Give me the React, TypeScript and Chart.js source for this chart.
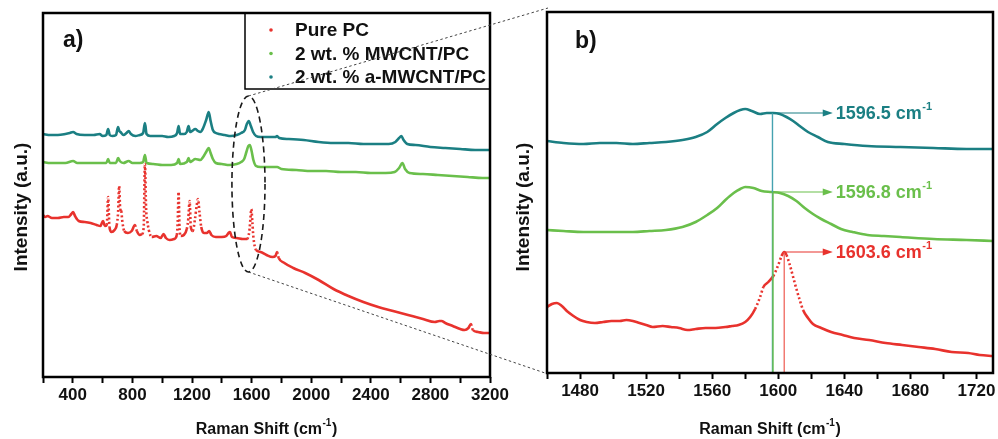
import React, { useEffect, useRef } from 'react';
import Chart from 'chart.js/auto';

const FONT = '"Liberation Sans", Arial, Helvetica, sans-serif';

// ---------- series meta ----------
const seriesLabels = ['Pure PC', '2 wt. % MWCNT/PC', '2 wt. % a-MWCNT/PC'];
const seriesColors = ['#e8322d', '#6abf4b', '#1b7f83'];
const markerLineColors = ['#ee5a50', '#6abf4b', '#45a2b0'];

// ---------- axes ----------
const fullRange = [200, 3200];
const fullTickStep = 200;
const fullLabelStep = 400;
const zoomRange = [1460, 1730];
const zoomTickStep = 20;
const zoomLabelStep = 40;
const zoomLabelAnchor = 1480;
const fullIntensityMax = 364;
const zoomIntensityMax = 361;

// ---------- panel a: full spectra (Raman shift cm-1, intensity a.u.) ----------
const pcFull: [number, number][] = [
  [200, 162], [215, 160], [230, 161], [260, 159], [300, 159], [340, 160], [370, 160], [390, 163],
  [402, 165], [415, 161], [440, 156], [480, 155], [520, 154], [560, 152], [585, 151], [603, 156],
  [615, 151], [628, 152], [637, 180], [646, 150], [660, 145], [680, 147], [695, 152], [704, 165],
  [711, 191], [718, 168], [725, 166], [732, 156], [745, 146], [770, 144], [795, 146], [817, 152],
  [830, 146], [850, 142], [865, 143], [876, 150], [884, 213], [892, 168], [900, 156], [910, 147],
  [930, 140], [960, 141], [990, 139], [1009, 143], [1025, 139], [1050, 137], [1080, 138], [1098, 142],
  [1104, 155], [1110, 185], [1116, 150], [1125, 141], [1145, 142], [1165, 148], [1175, 158], [1184, 176],
  [1192, 150], [1205, 146], [1220, 158], [1232, 172], [1240, 178], [1250, 165], [1262, 150], [1280, 144],
  [1300, 144], [1315, 146], [1330, 142], [1360, 140], [1400, 140], [1430, 141], [1445, 144], [1455, 145],
  [1468, 140], [1500, 139], [1540, 138], [1570, 138], [1585, 146], [1592, 158], [1598, 168], [1605, 155],
  [1612, 140], [1630, 127], [1660, 125], [1700, 122], [1740, 120], [1760, 121], [1771, 125], [1782, 119],
  [1820, 114], [1880, 109], [1960, 104], [2050, 97], [2150, 88], [2250, 81], [2350, 75], [2450, 70],
  [2550, 66], [2650, 62], [2750, 58], [2830, 55], [2860, 56], [2875, 56], [2900, 54], [2950, 51],
  [3000, 48], [3030, 47], [3055, 49], [3072, 53], [3085, 47], [3120, 45], [3160, 44], [3200, 44],
];

const mwcntFull: [number, number][] = [
  [200, 215], [250, 214], [300, 214], [350, 214], [402, 216], [430, 214], [500, 214], [560, 214],
  [600, 214], [625, 214], [637, 218], [648, 214], [690, 214], [704, 219], [715, 216], [740, 214],
  [775, 216], [800, 214], [850, 214], [872, 215], [884, 222], [895, 214], [940, 213], [1000, 212],
  [1060, 212], [1100, 214], [1110, 218], [1120, 213], [1165, 215], [1177, 219], [1187, 215], [1200, 216],
  [1222, 218], [1256, 217], [1275, 220], [1295, 225], [1312, 229], [1325, 224], [1340, 218], [1360, 214],
  [1400, 213], [1450, 212], [1500, 213], [1530, 215], [1550, 218], [1565, 225], [1578, 231], [1588, 232],
  [1600, 226], [1612, 217], [1630, 211], [1660, 210], [1700, 210], [1771, 210], [1800, 208], [1900, 207],
  [2000, 206], [2100, 206], [2200, 205], [2300, 205], [2400, 204], [2500, 204], [2560, 205], [2590, 209],
  [2612, 214], [2630, 208], [2660, 204], [2750, 203], [2850, 202], [2950, 201], [3050, 200], [3150, 199],
  [3200, 199],
];

const aMwcntFull: [number, number][] = [
  [200, 243], [250, 242], [300, 242], [350, 243], [380, 244], [402, 245], [425, 243], [480, 242],
  [540, 242], [580, 243], [600, 241], [625, 242], [637, 248], [648, 242], [665, 241], [690, 242],
  [704, 250], [712, 246], [720, 245], [740, 242], [760, 244], [775, 246], [790, 243], [820, 241],
  [850, 242], [872, 244], [884, 254], [895, 243], [920, 241], [960, 241], [1000, 241], [1040, 240],
  [1080, 241], [1100, 244], [1110, 251], [1120, 243], [1145, 243], [1165, 245], [1177, 251], [1187, 245],
  [1200, 246], [1222, 248], [1240, 246], [1256, 245], [1275, 249], [1295, 257], [1312, 265], [1325, 256],
  [1340, 247], [1360, 244], [1380, 243], [1420, 242], [1460, 241], [1500, 242], [1530, 244], [1555, 247],
  [1568, 253], [1581, 256], [1595, 251], [1610, 245], [1630, 241], [1660, 240], [1700, 240], [1760, 240],
  [1771, 241], [1785, 239], [1850, 238], [1950, 237], [2050, 235], [2150, 234], [2250, 234], [2350, 233],
  [2450, 233], [2520, 233], [2565, 235], [2590, 239], [2605, 241], [2620, 237], [2645, 233], [2700, 232],
  [2800, 230], [2900, 229], [3000, 228], [3100, 227], [3200, 227],
];

// ---------- panel b: G-band region ----------
const pcZoom: [number, number][] = [
  [1460, 66], [1463, 69], [1466, 70], [1469, 67], [1472, 62], [1476, 57], [1480, 53], [1484, 51],
  [1489, 50], [1494, 51], [1499, 52], [1504, 52], [1508, 53], [1512, 52], [1516, 50], [1520, 48],
  [1524, 46], [1530, 47], [1535, 46], [1540, 45], [1545, 43], [1550, 44], [1556, 45], [1562, 45],
  [1568, 46], [1572, 47], [1576, 48], [1580, 51], [1583, 56], [1586, 64], [1589, 76], [1591, 86],
  [1594, 91], [1597, 97], [1600, 108], [1602, 117], [1603.6, 121], [1605, 118], [1607, 108], [1609, 96],
  [1611, 84], [1613, 73], [1615, 63], [1618, 55], [1621, 49], [1626, 45], [1632, 41], [1639, 38],
  [1646, 35], [1655, 33], [1665, 30], [1675, 28], [1685, 26], [1695, 24], [1705, 21], [1715, 20],
  [1722, 18], [1730, 17],
];

const mwcntZoom: [number, number][] = [
  [1460, 143], [1470, 142], [1482, 141], [1492, 141], [1502, 141], [1512, 141], [1522, 142], [1532, 143],
  [1542, 146], [1550, 151], [1557, 158], [1563, 165], [1568, 173], [1573, 180], [1577, 184], [1580, 186],
  [1585, 185], [1590, 182], [1596, 181], [1601, 180], [1606, 177], [1611, 172], [1616, 165], [1621, 159],
  [1626, 154], [1632, 149], [1638, 144], [1645, 141], [1654, 138], [1664, 137], [1674, 136], [1694, 134],
  [1714, 133], [1730, 132],
];

const aMwcntZoom: [number, number][] = [
  [1460, 232], [1470, 230], [1482, 229], [1492, 230], [1502, 230], [1512, 229], [1522, 230], [1532, 231],
  [1542, 233], [1550, 236], [1557, 241], [1563, 249], [1568, 255], [1573, 260], [1577, 263], [1580, 264],
  [1584, 262], [1589, 259], [1593, 260], [1597, 260], [1601, 259], [1605, 256], [1609, 252], [1613, 247],
  [1618, 241], [1624, 236], [1630, 231], [1640, 229], [1654, 227], [1674, 226], [1694, 225], [1714, 224],
  [1730, 224],
];

// ---------- annotations ----------
const peakSeries = [2, 1, 0];
const peakShifts = [1596.5, 1596.8, 1603.6];
const peakIntensities = [260, 181, 121];
const peakLabels = ['1596.5', '1596.8', '1603.6'];
const arrowEndShift = 1633;
const zoomEllipseShift = [1468, 1690];
const zoomEllipseIntensity = [105, 281];

const toXY = (arr: [number, number][]) => arr.map(([x, y]) => ({ x, y }));

const steepDash = (ctx: any) => {
  const dx = Math.abs(ctx.p1.x - ctx.p0.x);
  const dy = Math.abs(ctx.p1.y - ctx.p0.y);
  return dy > 1.3 * dx + 3 ? [2, 2.4] : undefined;
};

function makeDatasets(series: [number, number][][]) {
  return series.map((s, i) => ({
    label: seriesLabels[i],
    data: toXY(s),
    showLine: true,
    borderColor: seriesColors[i],
    backgroundColor: seriesColors[i],
    borderWidth: 2.6,
    pointRadius: 0,
    cubicInterpolationMode: 'monotone' as const,
    segment: i === 0 ? { borderDash: steepDash } : undefined,
  }));
}

function drawSup(ctx: CanvasRenderingContext2D, base: string, sup: string, tail: string,
  x: number, y: number, size: number, supSize: number, align: 'left' | 'center', color: string) {
  const f = `bold ${size}px ${FONT}`;
  const fs = `bold ${supSize}px ${FONT}`;
  ctx.font = f;
  const w1 = ctx.measureText(base).width;
  const w3 = ctx.measureText(tail).width;
  ctx.font = fs;
  const w2 = ctx.measureText(sup).width;
  const total = w1 + w2 + w3 + 1;
  let sx = align === 'center' ? x - total / 2 : x;
  ctx.fillStyle = color;
  ctx.textAlign = 'left';
  ctx.textBaseline = 'middle';
  ctx.font = f;
  ctx.fillText(base, sx, y);
  sx += w1 + 0.5;
  ctx.font = fs;
  ctx.fillText(sup, sx, y - size * 0.4);
  sx += w2 + 0.5;
  ctx.font = f;
  ctx.fillText(tail, sx, y);
}

function drawYTitle(ctx: CanvasRenderingContext2D, x: number, y: number) {
  ctx.save();
  ctx.translate(x, y);
  ctx.rotate(-Math.PI / 2);
  ctx.font = `bold 19px ${FONT}`;
  ctx.fillStyle = '#111';
  ctx.textAlign = 'center';
  ctx.textBaseline = 'middle';
  ctx.fillText('Intensity (a.u.)', 0, 0);
  ctx.restore();
}

function frame(chart: any) {
  const { ctx, chartArea: a } = chart;
  ctx.save();
  ctx.strokeStyle = '#000';
  ctx.lineWidth = 2.5;
  ctx.strokeRect(a.left, a.top, a.right - a.left, a.bottom - a.top);
  ctx.restore();
}

const panelAPlugin = {
  id: 'panelA',
  afterDraw(chart: any) {
    const { ctx, chartArea: a, scales } = chart;
    ctx.save();
    // ellipse marking the zoom region
    const x0 = scales.x.getPixelForValue(zoomEllipseShift[0]);
    const x1 = scales.x.getPixelForValue(zoomEllipseShift[1]);
    const y0 = scales.y.getPixelForValue(zoomEllipseIntensity[0]);
    const y1 = scales.y.getPixelForValue(zoomEllipseIntensity[1]);
    ctx.beginPath();
    ctx.setLineDash([6, 4]);
    ctx.lineWidth = 1.6;
    ctx.strokeStyle = '#1a1a1a';
    ctx.ellipse((x0 + x1) / 2, (y0 + y1) / 2, Math.abs(x1 - x0) / 2, Math.abs(y0 - y1) / 2, 0, 0, Math.PI * 2);
    ctx.stroke();
    ctx.setLineDash([]);
    // legend box
    const lx = 245, ly = a.top, lw = a.right - 245, lh = 76;
    ctx.lineWidth = 1.5;
    ctx.strokeStyle = '#000';
    ctx.strokeRect(lx, ly, lw, lh);
    chart.data.datasets.forEach((ds: any, i: number) => {
      const yy = ly + 17 + i * 23.5;
      ctx.fillStyle = ds.borderColor;
      ctx.beginPath();
      ctx.arc(lx + 26, yy, 1.8, 0, Math.PI * 2);
      ctx.fill();
      ctx.fillStyle = '#111';
      ctx.font = `bold 19px ${FONT}`;
      ctx.textAlign = 'left';
      ctx.textBaseline = 'middle';
      ctx.fillText(ds.label, lx + 50, yy + 1);
    });
    // panel label
    ctx.font = `bold 23px ${FONT}`;
    ctx.fillStyle = '#111';
    ctx.textAlign = 'left';
    ctx.textBaseline = 'middle';
    ctx.fillText('a)', a.left + 20, a.top + 28);
    // axis titles
    drawSup(ctx, 'Raman Shift (cm', '-1', ')', (a.left + a.right) / 2, 430, 16, 10, 'center', '#111');
    drawYTitle(ctx, 22, 207);
    ctx.restore();
    frame(chart);
  },
};

const panelBPlugin = {
  id: 'panelB',
  afterDatasetsDraw(chart: any) {
    const { ctx, chartArea: a, scales } = chart;
    ctx.save();
    const xe = scales.x.getPixelForValue(arrowEndShift);
    peakShifts.forEach((ps, k) => {
      const si = peakSeries[k];
      const xp = scales.x.getPixelForValue(ps);
      const yp = scales.y.getPixelForValue(peakIntensities[k]);
      ctx.strokeStyle = markerLineColors[si];
      ctx.lineWidth = si === 0 ? 1.2 : 1.4;
      ctx.beginPath();
      ctx.moveTo(xp, yp);
      ctx.lineTo(xp, a.bottom);
      ctx.stroke();
      ctx.strokeStyle = seriesColors[si];
      ctx.lineWidth = 1.2;
      ctx.beginPath();
      ctx.moveTo(xp, yp);
      ctx.lineTo(xe - 8, yp);
      ctx.stroke();
      ctx.fillStyle = seriesColors[si];
      ctx.beginPath();
      ctx.moveTo(xe, yp);
      ctx.lineTo(xe - 10, yp - 3.5);
      ctx.lineTo(xe - 10, yp + 3.5);
      ctx.closePath();
      ctx.fill();
      drawSup(ctx, peakLabels[k] + ' cm', '-1', '', xe + 3, yp + 1, 18, 11, 'left', seriesColors[si]);
    });
    ctx.restore();
  },
  afterDraw(chart: any) {
    const { ctx, chartArea: a } = chart;
    ctx.save();
    ctx.font = `bold 23px ${FONT}`;
    ctx.fillStyle = '#111';
    ctx.textAlign = 'left';
    ctx.textBaseline = 'middle';
    ctx.fillText('b)', a.left + 28, a.top + 30);
    drawSup(ctx, 'Raman Shift (cm', '-1', ')', (a.left + a.right) / 2, 430, 16, 10, 'center', '#111');
    drawYTitle(ctx, 24, 207);
    ctx.restore();
    frame(chart);
  },
};

function tickValues(range: number[], step: number) {
  const out: number[] = [];
  for (let v = range[0]; v <= range[1] + 1e-9; v += step) out.push(v);
  return out;
}

function xAxis(range: number[], step: number, isLabel: (v: number) => boolean, height: number) {
  return {
    type: 'linear' as const,
    min: range[0],
    max: range[1],
    afterFit: (s: any) => { s.height = height; },
    afterBuildTicks: (s: any) => { s.ticks = tickValues(range, step).map((value) => ({ value })); },
    border: { display: false },
    grid: { display: true, drawOnChartArea: false, drawTicks: true, tickLength: 6, tickColor: '#000', tickWidth: 2, color: '#000' },
    ticks: {
      autoSkip: false,
      maxRotation: 0,
      padding: 2,
      color: '#111',
      font: { size: 17, weight: 'bold' as const, family: FONT },
      callback: (v: any) => (isLabel(Number(v)) ? String(v) : ''),
    },
  };
}

const PANEL_B_OFFSET = 500;

export default function App() {
  const refA = useRef<HTMLCanvasElement>(null);
  const refB = useRef<HTMLCanvasElement>(null);
  const refO = useRef<HTMLCanvasElement>(null);

  useEffect(() => {
    Chart.defaults.font.family = FONT;
    const chartA = new Chart(refA.current!, {
      type: 'scatter',
      data: { datasets: makeDatasets([pcFull, mwcntFull, aMwcntFull]) as any },
      options: {
        responsive: false,
        animation: false,
        layout: { padding: { left: 43, right: 30, top: 13, bottom: 0 } },
        plugins: { legend: { display: false }, tooltip: { enabled: false } },
        scales: {
          x: xAxis(fullRange, fullTickStep, (v) => v % fullLabelStep === 0, 62) as any,
          y: { display: false, min: 0, max: fullIntensityMax },
        },
      },
      plugins: [panelAPlugin],
    });
    const chartB = new Chart(refB.current!, {
      type: 'scatter',
      data: { datasets: makeDatasets([pcZoom, mwcntZoom, aMwcntZoom]) as any },
      options: {
        responsive: false,
        animation: false,
        layout: { padding: { left: 47, right: 5, top: 12, bottom: 0 } },
        plugins: { legend: { display: false }, tooltip: { enabled: false } },
        scales: {
          x: xAxis(zoomRange, zoomTickStep, (v) => (v - zoomLabelAnchor) % zoomLabelStep === 0, 66) as any,
          y: { display: false, min: 0, max: zoomIntensityMax },
        },
      },
      plugins: [panelBPlugin],
    });

    // connector lines between the ellipse and panel b
    const oc = refO.current!.getContext('2d')!;
    oc.clearRect(0, 0, 998, 439);
    const sx = chartA.scales.x, sy = chartA.scales.y;
    const cx = sx.getPixelForValue((zoomEllipseShift[0] + zoomEllipseShift[1]) / 2);
    const yTop = sy.getPixelForValue(zoomEllipseIntensity[1]);
    const yBot = sy.getPixelForValue(zoomEllipseIntensity[0]);
    const bA = chartB.chartArea;
    oc.save();
    oc.strokeStyle = '#444';
    oc.lineWidth = 1;
    oc.setLineDash([2.5, 2.5]);
    oc.beginPath();
    oc.moveTo(cx, yTop);
    oc.lineTo(PANEL_B_OFFSET + bA.left + 1, bA.top - 4);
    oc.moveTo(cx, yBot);
    oc.lineTo(PANEL_B_OFFSET + bA.left - 2, bA.bottom);
    oc.stroke();
    oc.restore();

    return () => {
      chartA.destroy();
      chartB.destroy();
    };
  }, []);

  return (
    <div style={{ position: 'absolute', left: 0, top: 0, width: 998, height: 439, background: '#fff', overflow: 'hidden' }}>
      <canvas ref={refA} width={520} height={439} style={{ position: 'absolute', left: 0, top: 0, width: 520, height: 439 }} />
      <canvas ref={refB} width={498} height={439} style={{ position: 'absolute', left: PANEL_B_OFFSET, top: 0, width: 498, height: 439 }} />
      <canvas ref={refO} width={998} height={439} style={{ position: 'absolute', left: 0, top: 0, width: 998, height: 439, pointerEvents: 'none' }} />
    </div>
  );
}
